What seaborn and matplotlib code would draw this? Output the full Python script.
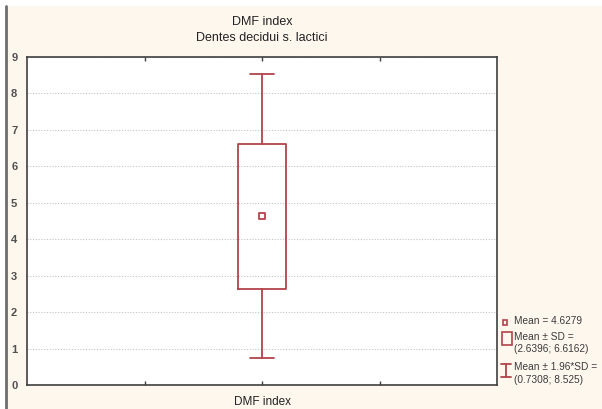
import matplotlib
matplotlib.use("Agg")
import matplotlib.pyplot as plt
from matplotlib.patches import Rectangle
from matplotlib.lines import Line2D
import seaborn as sns
import pandas as pd

# Summary statistics of the DMF index (deciduous teeth)
category = ["DMF index"]
mean_vals = [4.6279]
sd_low = [2.6396]
sd_high = [6.6162]
ci_low = [0.7308]
ci_high = [8.525]
y_ticks = [0, 1, 2, 3, 4, 5, 6, 7, 8, 9]

BOX = "#B2434C"
TXT = "#3C3C3C"
CREAM = "#FEF7EE"

sns.set_theme(style="white")
plt.rcParams["font.family"] = ["Liberation Sans", "DejaVu Sans"]

fig = plt.figure(figsize=(6.02, 4.09), dpi=100, facecolor="white")
W, H = 602, 409

# cream panel with a grey rule on its left edge
fig.patches.append(Rectangle((7 / W, 0), 1, 1 - 6 / H, transform=fig.transFigure,
                             facecolor=CREAM, edgecolor="none", zorder=-5))
fig.add_artist(Line2D([6 / W, 6 / W], [0, 1 - 6 / H], transform=fig.transFigure,
                      color="#6E6E6E", lw=2.0, zorder=-4))

ax = fig.add_axes([27 / W, 1 - 385 / H, 470 / W, 328 / H])
ax.set_zorder(1)
ax.set_facecolor("white")

df = pd.DataFrame({"cat": category, "mean": mean_vals,
                   "sd_low": sd_low, "sd_high": sd_high,
                   "ci_low": ci_low, "ci_high": ci_high})

stats = [dict(med=m, q1=a, q3=b, whislo=c, whishi=d, fliers=[], label=l)
         for l, m, a, b, c, d in zip(df["cat"], df["mean"], df["sd_low"],
                                      df["sd_high"], df["ci_low"], df["ci_high"])]
pos = [2]
ax.bxp(stats, positions=pos, widths=0.41, capwidths=0.205, showfliers=False,
       boxprops=dict(color=BOX, lw=1.3),
       whiskerprops=dict(color=BOX, lw=1.3),
       capprops=dict(color=BOX, lw=1.3),
       medianprops=dict(color="none", lw=0),
       manage_ticks=False)

sns.scatterplot(x=pos, y=df["mean"], ax=ax, marker="s", s=22,
                facecolor="white", edgecolor=BOX, linewidth=1.3, zorder=5)

ax.set_xlim(0, 4)
ax.set_ylim(0, 9)
ax.set_yticks(y_ticks)
ax.set_yticklabels([str(t) for t in y_ticks], fontsize=8, color="#505050",
                   fontweight="bold")
ax.set_xticks([1, 2, 3])
ax.set_xticklabels(["", category[0], ""], fontsize=8.5, color="#222222")
ax.tick_params(axis="x", direction="in", length=3, top=True, bottom=True,
               color="#404040", width=1, pad=8)
ax.tick_params(axis="y", length=0, pad=7)
ax.yaxis.grid(True, linestyle=(0, (1, 1.5)), color="#C4C4C4", lw=0.8)
ax.set_axisbelow(True)
for s in ax.spines.values():
    s.set_color("#404040")
    s.set_linewidth(1.2)
ax.set_xlabel("")
ax.set_ylabel("")

fig.text(262 / W, 1 - 22 / H, "DMF index", ha="center", va="center",
         fontsize=9, color="#222222")
fig.text(262 / W, 1 - 38 / H, "Dentes decidui s. lactici", ha="center",
         va="center", fontsize=9, color="#222222")

# legend entries
def fx(x):
    return x / W

def fy(y):
    return 1 - y / H

fig.patches.append(Rectangle((fx(502.5), fy(324.5)), 4.5 / W, 4.5 / H,
                             transform=fig.transFigure, facecolor="none",
                             edgecolor=BOX, lw=1.2))
fig.patches.append(Rectangle((fx(502), fy(345)), 10 / W, 13.5 / H,
                             transform=fig.transFigure, facecolor="none",
                             edgecolor=BOX, lw=1.2))
fig.add_artist(Line2D([fx(506), fx(506)], [fy(363.5), fy(376.5)],
                      transform=fig.transFigure, color=BOX, lw=1.3))
fig.add_artist(Line2D([fx(501), fx(511)], [fy(363.5), fy(363.5)],
                      transform=fig.transFigure, color=BOX, lw=1.3))
fig.add_artist(Line2D([fx(501), fx(511)], [fy(376.5), fy(376.5)],
                      transform=fig.transFigure, color=BOX, lw=1.3))

leg_kw = dict(ha="left", va="center", fontsize=7.3, color=TXT)
fig.text(fx(514), fy(321), f"Mean = {mean_vals[0]:.4f}", **leg_kw)
fig.text(fx(514), fy(336.5), "Mean \u00b1 SD =", **leg_kw)
fig.text(fx(514), fy(349), f"({sd_low[0]:.4f}; {sd_high[0]:.4f})", **leg_kw)
fig.text(fx(514), fy(367.5), "Mean \u00b1 1.96*SD =", **leg_kw)
fig.text(fx(514), fy(380), f"({ci_low[0]:.4f}; {ci_high[0]:.3f})", **leg_kw)

fig.savefig("out.png", dpi=100, facecolor=fig.get_facecolor())
